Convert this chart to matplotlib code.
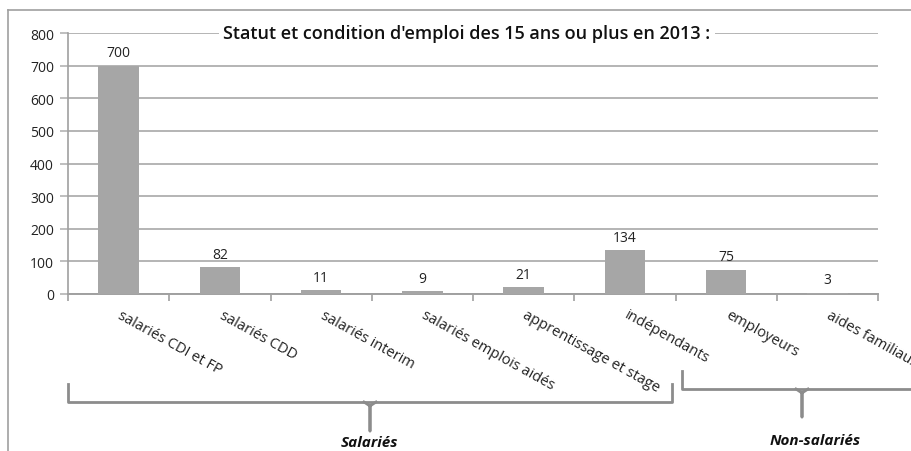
import matplotlib.pyplot as plt
from matplotlib.lines import Line2D

categories = ["salariés CDI et FP", "salariés CDD", "salariés interim",
              "salariés emplois aidés", "apprentissage et stage",
              "indépendants", "employeurs", "aides familiaux"]
values = [700, 82, 11, 9, 21, 134, 75, 3]
yticks = [0, 100, 200, 300, 400, 500, 600, 700, 800]
title = "Statut et condition d'emploi des 15 ans ou plus en 2013 :"
groups = ["Salariés", "Non-salariés"]

W, H = 911, 452
plt.rcParams['font.family'] = ['Open Sans', 'DejaVu Sans']

fig = plt.figure(figsize=(W / 100, H / 100), dpi=100)


def fx(x):
    return x / W


def fy(y):
    return 1 - y / H


ax = fig.add_axes([fx(68), fy(295), fx(878) - fx(68), fy(34) - fy(295)])

x = list(range(len(values)))
ax.bar(x, values, width=0.4, color="#a6a6a6", zorder=3)
for xi, v in zip(x, values):
    ax.annotate(str(v), (xi, v), xytext=(0, 4), textcoords="offset points",
                ha="center", va="bottom", fontsize=10, color="#222222")

ax.set_xlim(-0.5, len(values) - 0.5)
ax.set_ylim(0, 800)
ax.set_yticks(yticks)
ax.yaxis.grid(True, color="#b4b4b4", linewidth=1.4, zorder=0)
ax.set_xticks([i - 0.5 for i in range(len(values) + 1)])
ax.set_xticklabels([])
ax.tick_params(axis="x", length=5, color="#a0a0a0", width=1.2)
ax.tick_params(axis="y", length=6, color="#b4b4b4", width=1.2, labelsize=10,
               labelcolor="#222222", pad=4)
for s in ["top", "right"]:
    ax.spines[s].set_visible(False)
ax.spines["left"].set_color("#a0a0a0")
ax.spines["bottom"].set_color("#a0a0a0")
ax.spines["left"].set_linewidth(1.2)
ax.spines["bottom"].set_linewidth(1.4)

for xi, lab in zip(x, categories):
    ax.text(xi + 0.04, -0.05, lab, transform=ax.get_xaxis_transform(),
            rotation=-29, rotation_mode="anchor", ha="left", va="top",
            fontsize=10.5, color="#222222", clip_on=False)

fig.text(fx(467), fy(34), title, ha="center", va="center", fontsize=13,
         fontweight="semibold", color="#111111",
         bbox=dict(facecolor="white", edgecolor="none", pad=3))

# outer frame
fig.add_artist(Line2D([fx(8), fx(8)], [fy(11), 0], color="#a0a0a0", lw=1.2))
fig.add_artist(Line2D([fx(8), 1], [fy(11), fy(11)], color="#a0a0a0", lw=1.2))


def brace(x0, x1, ytop, ybar, xc, ystem):
    xs = [x0, x0, x1, x1]
    ys = [ytop, ybar, ybar, ytop]
    fig.add_artist(Line2D([fx(v) for v in xs], [fy(v) for v in ys],
                          color="#8c8c8c", lw=2, solid_joinstyle="round"))
    fig.add_artist(Line2D([fx(xc - 6), fx(xc), fx(xc), fx(xc), fx(xc + 6)],
                          [fy(ybar), fy(ybar + 4), fy(ystem), fy(ybar + 4),
                           fy(ybar)],
                          color="#8c8c8c", lw=2, solid_joinstyle="round"))


brace(68, 672, 385, 403, 370, 432)
brace(682, 920, 372, 390, 802, 418)

fig.text(fx(369), fy(443), groups[0], ha="center", va="center", fontsize=11,
         fontweight="bold", style="italic", color="#111111")
fig.text(fx(815), fy(441), groups[1], ha="center", va="center", fontsize=11,
         fontweight="bold", style="italic", color="#111111")

fig.savefig("out.png", dpi=100)
